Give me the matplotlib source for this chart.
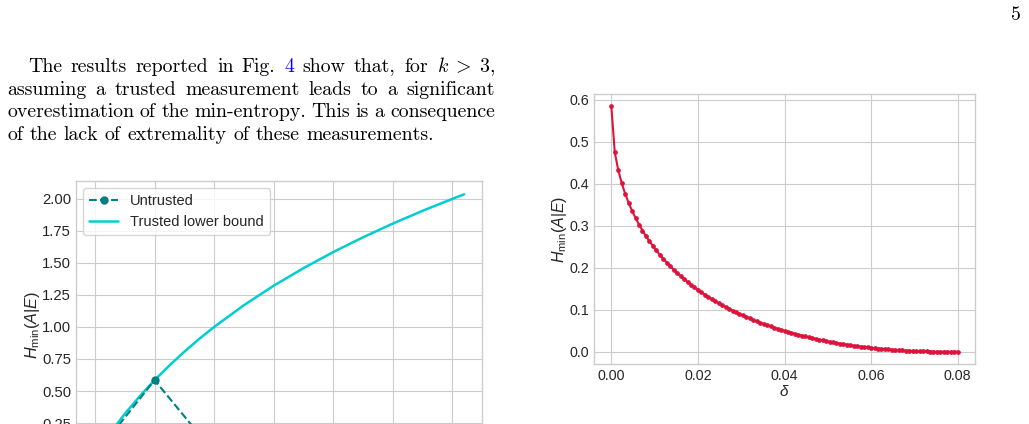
import numpy as np
import matplotlib.pyplot as plt

W, H = 1029, 424

# ---- data ----
# page text (each line: list of (word, colour)); last line is not justified
body_lines = [
    [("The", "k"), ("results", "k"), ("reported", "k"), ("in", "k"), ("Fig.", "k"), ("4", "blue"),
     ("show", "k"), ("that,", "k"), ("for", "k"), (r"$k \;>\; 3$,", "k")],
    [("assuming", "k"), ("a", "k"), ("trusted", "k"), ("measurement", "k"), ("leads", "k"),
     ("to", "k"), ("a", "k"), ("significant", "k")],
    [("overestimation", "k"), ("of", "k"), ("the", "k"), ("min-entropy.", "k"), ("This", "k"),
     ("is", "k"), ("a", "k"), ("consequence", "k")],
    [("of", "k"), ("the", "k"), ("lack", "k"), ("of", "k"), ("extremality", "k"), ("of", "k"),
     ("these", "k"), ("measurements.", "k")],
]
page_number = "5"

# left panel: min-entropy vs k
k_trusted = [2.0, 2.1, 2.25, 2.5, 2.75, 3.0, 3.25, 3.5, 3.75, 4.0, 4.5, 5.0, 5.5,
             6.0, 6.5, 7.0, 7.5, 8.0, 8.2]
h_trusted = [0.000, 0.070, 0.170, 0.322, 0.459, 0.585, 0.700, 0.807, 0.907, 1.000,
             1.170, 1.322, 1.459, 1.585, 1.700, 1.807, 1.907, 2.000, 2.036]
k_untrusted = [2, 3, 4, 5, 6, 7, 8]
h_untrusted = [0.0, 0.585, 0.02, 0.0, 0.0, 0.0, 0.0]

# right panel: min-entropy vs delta (101 evenly spaced samples)
delta = np.linspace(0, 0.08, 101)
h_delta = [0.585, 0.4752, 0.4330, 0.4018, 0.3765, 0.3548, 0.3357, 0.3186, 0.3031, 0.2889,
           0.2757, 0.2635, 0.2521, 0.2413, 0.2312, 0.2216, 0.2125, 0.2039, 0.1957, 0.1879,
           0.1804, 0.1733, 0.1665, 0.1599, 0.1536, 0.1476, 0.1417, 0.1362, 0.1308, 0.1256,
           0.1206, 0.1158, 0.1111, 0.1066, 0.1023, 0.0981, 0.0941, 0.0902, 0.0864, 0.0827,
           0.0792, 0.0758, 0.0725, 0.0693, 0.0662, 0.0633, 0.0604, 0.0576, 0.0549, 0.0523,
           0.0498, 0.0473, 0.0450, 0.0427, 0.0405, 0.0384, 0.0363, 0.0343, 0.0324, 0.0306,
           0.0288, 0.0271, 0.0255, 0.0239, 0.0224, 0.0209, 0.0195, 0.0182, 0.0169, 0.0157,
           0.0145, 0.0134, 0.0123, 0.0113, 0.0103, 0.0093, 0.0085, 0.0076, 0.0069, 0.0061,
           0.0054, 0.0048, 0.0042, 0.0036, 0.0031, 0.0026, 0.0022, 0.0018, 0.0014, 0.0011,
           0.0008, 0.0006, 0.0004, 0.0002, 0.0001, 0.0, 0.0, 0.0, 0.0, 0.0, 0.0]

# ---- style ----
plt.style.use('seaborn-v0_8-whitegrid')
plt.rcParams['font.family'] = ['Liberation Sans', 'DejaVu Sans']
plt.rcParams['mathtext.fontset'] = 'custom'
plt.rcParams['mathtext.rm'] = 'Liberation Sans'
plt.rcParams['mathtext.it'] = 'Liberation Sans:italic'
plt.rcParams['mathtext.bf'] = 'Liberation Sans:bold'

fig = plt.figure(figsize=(W / 100, H / 100), dpi=100)
fig.patch.set_facecolor('white')

ylab = r'$H_{\mathrm{min}}(A|E)$'

# left panel (extends past the bottom of the page crop)
ax1 = fig.add_axes([76 / W, 1 - 469 / H, (482 - 76) / W, (469 - 181) / H])
ax1.plot(k_untrusted, h_untrusted, '--o', color='teal', lw=1.5, ms=5, zorder=3,
         label='Untrusted')
ax1.plot(k_trusted, h_trusted, '-', color='darkturquoise', lw=1.8, label='Trusted lower bound')
ax1.set_xlim(1.68, 8.5)
ax1.set_ylim(-0.109, 2.14)
ax1.set_xticks(range(2, 9))
ax1.set_yticks([0.0, 0.25, 0.5, 0.75, 1.0, 1.25, 1.5, 1.75, 2.0])
ax1.yaxis.set_major_formatter(plt.FormatStrFormatter('%.2f'))
ax1.tick_params(labelsize=10.7)
ax1.set_ylabel(ylab, fontsize=11.7, labelpad=0)
ax1.legend(loc='upper left', frameon=True, fontsize=10.5)

# right panel
ax2 = fig.add_axes([594 / W, 1 - 364 / H, (975 - 594) / W, (364 - 94) / H])
ax2.plot(delta, h_delta, '-o', color='crimson', lw=1.5, ms=2.4)
ax2.set_xticks([0.0, 0.02, 0.04, 0.06, 0.08])
ax2.xaxis.set_major_formatter(plt.FormatStrFormatter('%.2f'))
ax2.tick_params(labelsize=10.3)
ax2.set_ylabel(ylab, fontsize=11.5, labelpad=0)
ax2.set_xlabel(r'$\delta$', fontsize=11, labelpad=1)

for ax in (ax1, ax2):
    for s in ax.spines.values():
        s.set_visible(True)
        s.set_color('0.8')

# ---- page text, justified word by word ----
body_size = 14.3
r = fig.canvas.get_renderer()
baselines = [72.5, 95, 117, 139.5]
for i, line in enumerate(body_lines):
    x0 = 28 if i == 0 else 7
    x1 = 495
    y = 1 - baselines[i] / H
    texts = [fig.text(0, y, w, color=c, fontsize=body_size, family='cmr10',
                      math_fontfamily='cm', va='baseline') for w, c in line]
    widths = [t.get_window_extent(r).width for t in texts]
    if i < len(body_lines) - 1:
        gap = (x1 - x0 - sum(widths)) / (len(texts) - 1)
    else:
        gap = body_size * 100 / 72 * 0.333
    x = x0
    for t, w in zip(texts, widths):
        t.set_x(x / W)
        x += w + gap

fig.text(1021 / W, 1 - 20 / H, page_number, fontsize=body_size, family='cmr10',
         ha='right', va='baseline', color='k')

fig.savefig('out.png', dpi=100)
